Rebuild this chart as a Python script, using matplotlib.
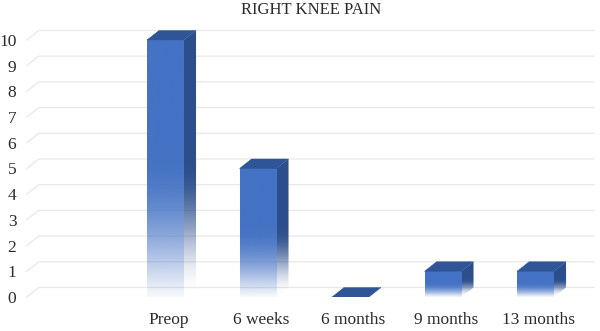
import numpy as np
import matplotlib
matplotlib.use('Agg')
import matplotlib.pyplot as plt
from matplotlib.patches import Polygon
from matplotlib.colors import to_rgb

# data
categories = ['', 'Preop', '6 weeks', '6 months', '9 months', '13 months']
pain = [np.nan, 10, 5, 0, 1, 1]
y_ticks = list(range(0, 11))
title = 'RIGHT KNEE PAIN'

FRONT = '#4472C4'
SIDE = '#2C4E8C'
TOP = '#2F5597'
GRID = '#E8E8E8'
TEXT = '#2B2B2B'

bar_w = 0.4
dx, dy = 0.13, 0.37   # fake 3d depth, data units

plt.rcParams['font.family'] = ['Liberation Serif', 'DejaVu Serif']


def fade(n, t0, low, power=1.0):
    # alpha ramp: nearly clear at the bottom, solid above t0 of the height
    t = np.linspace(0, 1, n)
    s = np.clip(t / t0, 0, 1)
    a = np.sin(0.5 * np.pi * s) ** power
    return low + (1 - low) * a


def grad_img(color, alpha):
    rgba = np.zeros((len(alpha), 2, 4))
    rgba[..., :3] = to_rgb(color)
    rgba[..., 3] = alpha[:, None]
    return rgba


fig = plt.figure(figsize=(6.0, 3.31), dpi=100)
ax = fig.add_axes([26.75 / 600, 34 / 331, 555 / 600, 277.6 / 331])
xmin, xmax = -0.5, len(categories) - 0.5
ymax = 10.8

# back wall gridlines with the little diagonal on the side wall
for v in y_ticks:
    ax.plot([xmin, xmin + dx, xmax + dx], [v, v + dy, v + dy], color=GRID,
            lw=0.9, zorder=0, clip_on=False)

for i, v in enumerate(pain):
    if np.isnan(v):
        continue
    x0, x1 = i - bar_w / 2, i + bar_w / 2
    if v > 0:
        ax.imshow(grad_img(FRONT, fade(256, 0.55, 0.05, 1.1)), extent=(x0, x1, 0, v),
                  origin='lower', aspect='auto', interpolation='bilinear', zorder=2)
        side = Polygon([(x1, 0), (x1 + dx, dy), (x1 + dx, v + dy), (x1, v)],
                       closed=True, fc='none', ec='none')
        ax.add_patch(side)
        im = ax.imshow(grad_img(SIDE, fade(256, 0.5, 0.0, 2.0)),
                       extent=(x1, x1 + dx, 0, v + dy), origin='lower',
                       aspect='auto', interpolation='bilinear', zorder=2)
        im.set_clip_path(side)
    top = [(x0, v), (x1, v), (x1 + dx, v + dy), (x0 + dx, v + dy)]
    ax.add_patch(Polygon(top, closed=True, fc=TOP, ec=TOP, lw=0.3, zorder=3))

ax.set_xlim(xmin, xmax)
ax.set_ylim(0, ymax)
ax.set_xticks(np.arange(len(categories)) + 0.03, categories)
ax.set_yticks(y_ticks, [str(t) for t in y_ticks])
ax.tick_params(axis='x', length=0, labelsize=12.5, pad=10.5, colors=TEXT)
ax.tick_params(axis='y', length=0, labelsize=12.5, pad=7.5, colors=TEXT)
for s in ax.spines.values():
    s.set_visible(False)

fig.text(311 / 600, 1 - 10 / 331, title, ha='center', va='center',
         fontsize=12, color=TEXT)

fig.savefig('out.png', dpi=100)
